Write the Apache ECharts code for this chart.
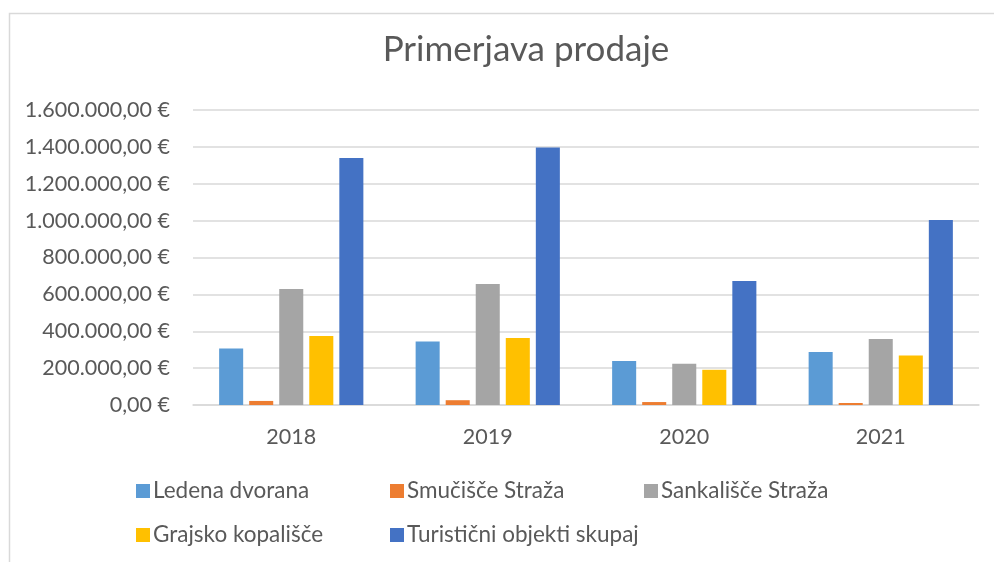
<!DOCTYPE html>
<html>
<head>
<meta charset="utf-8">
<script src="https://cdn.jsdelivr.net/npm/echarts@6/dist/echarts.min.js"></script>
<style>
  html, body { margin: 0; padding: 0; background: #ffffff; }
  #chart { width: 994px; height: 562px; }
</style>
</head>
<body>
<div id="chart"></div>
<script>
// Yearly sales per facility (EUR)
const years = ['2018', '2019', '2020', '2021'];
const ledenaDvorana = [307000, 345000, 238000, 287000];
const smucisceStraza = [22000, 26000, 16000, 11000];
const sankalisceStraza = [629000, 656000, 224000, 358000];
const grajskoKopalisce = [374000, 363000, 191000, 269000];
const turisticniSkupaj = [1339000, 1397000, 672000, 1003000];

const seriesNames = ['Ledena dvorana', 'Smučišče Straža', 'Sankališče Straža', 'Grajsko kopališče', 'Turistični objekti skupaj'];
const seriesColors = ['#5B9BD5', '#ED7D31', '#A5A5A5', '#FFC000', '#4472C4'];
const seriesData = [ledenaDvorana, smucisceStraza, sankalisceStraza, grajskoKopalisce, turisticniSkupaj];

const yMin = 0, yMax = 1600000, yStep = 200000;

const FONT = 'Lato, "Open Sans", sans-serif';
const TEXT = '#595959';
const GRID = '#D9D9D9';

// 1600000 -> "1.600.000,00 €"
function euro(v) {
  const s = Math.round(v).toString().replace(/\B(?=(\d{3})+(?!\d))/g, '.');
  return s + ',00 €';
}

const chart = echarts.init(document.getElementById('chart'), null, { renderer: 'canvas' });

chart.setOption({
  backgroundColor: '#ffffff',
  animation: false,
  textStyle: { fontFamily: FONT },
  graphic: [{
    type: 'rect',
    left: 7, top: 11,
    shape: { width: 1100, height: 700 },
    style: { fill: 'none', stroke: GRID, lineWidth: 1.5 },
    silent: true, z: -1
  }],
  title: {
    text: 'Primerjava prodaje',
    left: 521, top: 27,
    textAlign: 'center',
    textStyle: { fontFamily: FONT, fontSize: 35, fontWeight: 'normal', color: TEXT }
  },
  legend: {
    data: seriesNames,
    left: 131, top: 469, width: 780,
    orient: 'horizontal',
    itemWidth: 14, itemHeight: 14, itemGap: 10,
    icon: 'rect',
    textStyle: { fontFamily: FONT, fontSize: 22.5, color: TEXT, width: 227, overflow: 'none', lineHeight: 34, padding: [0, 0, 0, -2] }
  },
  grid: { left: 193, right: 15, top: 110, bottom: 157, containLabel: false },
  xAxis: {
    type: 'category',
    data: years,
    axisTick: { show: false },
    axisLine: { show: true, lineStyle: { color: GRID, width: 1.5 } },
    axisLabel: { color: TEXT, fontFamily: FONT, fontSize: 21.5, margin: 21 }
  },
  yAxis: {
    type: 'value',
    min: yMin, max: yMax, interval: yStep,
    axisLine: { show: false },
    axisTick: { show: false },
    splitLine: { show: true, lineStyle: { color: GRID, width: 1.5 } },
    axisLabel: { color: TEXT, fontFamily: FONT, fontSize: 21.5, margin: 23, formatter: euro }
  },
  series: seriesNames.map((name, i) => ({
    name: name,
    type: 'bar',
    data: seriesData[i],
    itemStyle: { color: seriesColors[i] },
    barGap: '25%',
    barCategoryGap: '26.6%'
  }))
});
</script>
</body>
</html>
